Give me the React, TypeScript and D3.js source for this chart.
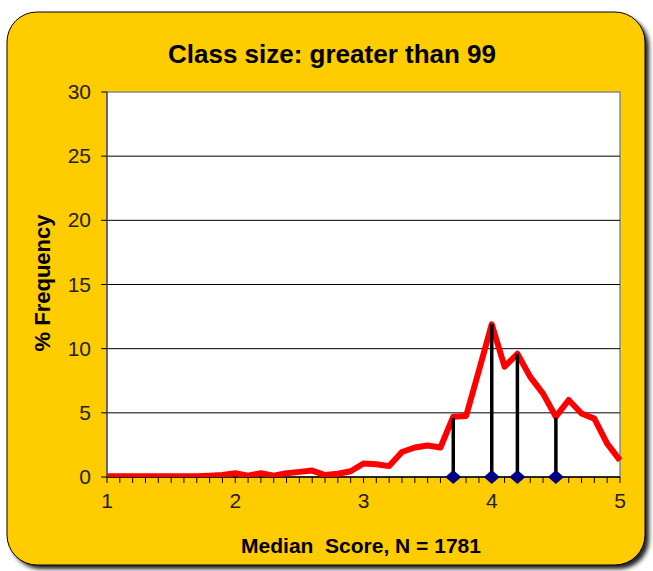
import React from 'react';
import * as d3 from 'd3';

// x categories (median score) and % frequency
const scores = [
  1.0, 1.1, 1.2, 1.3, 1.4, 1.5, 1.6, 1.7, 1.8, 1.9,
  2.0, 2.1, 2.2, 2.3, 2.4, 2.5, 2.6, 2.7, 2.8, 2.9,
  3.0, 3.1, 3.2, 3.3, 3.4, 3.5, 3.6, 3.7, 3.8, 3.9,
  4.0, 4.1, 4.2, 4.3, 4.4, 4.5, 4.6, 4.7, 4.8, 4.9, 5.0,
];
const frequency = [
  0.05, 0.05, 0.05, 0.05, 0.05, 0.05, 0.05, 0.05, 0.1, 0.15,
  0.3, 0.1, 0.3, 0.1, 0.3, 0.4, 0.5, 0.15, 0.25, 0.45,
  1.05, 1.0, 0.85, 1.95, 2.3, 2.45, 2.3, 4.7, 4.75, 8.3,
  11.9, 8.6, 9.6, 7.8, 6.5, 4.7, 6.0, 4.95, 4.55, 2.6, 1.3,
];
// reference markers (black stems + diamonds)
const markerScores = [3.7, 4.0, 4.2, 4.5];
const markerHeights = [4.6, 11.9, 9.6, 4.6];

const yTicks = [0, 5, 10, 15, 20, 25, 30];
const xTicks = [1, 2, 3, 4, 5];

const width = 653, height = 571;
const plot = { left: 107, right: 620, top: 92, bottom: 477 };
const font = 'Liberation Sans, Arial, sans-serif';

const Txt = ({ x, y, size, bold, anchor, rotate = 0, children }: any) => (
  <text
    transform={`translate(${x},${y}) rotate(${rotate})`}
    textAnchor={anchor}
    fontFamily={font}
    fontWeight={bold ? 'bold' : 'normal'}
    fontSize={size}
    fill={bold ? '#000' : '#222'}
    style={{ whiteSpace: 'pre' }}
  >
    {children}
  </text>
);

const App = () => {
  const x = d3.scaleLinear().domain([1, 5]).range([plot.left, plot.right]);
  const y = d3.scaleLinear().domain([0, 30]).range([plot.bottom, plot.top]);

  const line = d3.line<number>()
    .x((_, i) => x(scores[i]))
    .y(d => y(d));

  const minor = x.ticks(40);

  const diamond = (cx: number, cy: number) => {
    const p = d3.path();
    p.moveTo(cx, cy - 7);
    p.lineTo(cx + 8, cy);
    p.lineTo(cx, cy + 7);
    p.lineTo(cx - 8, cy);
    p.closePath();
    return p.toString();
  };

  return (
    <svg width={width} height={height} style={{ position: 'absolute', left: 0, top: 0 }}>
      <defs>
        <filter id="blur" x="-5%" y="-5%" width="110%" height="110%">
          <feGaussianBlur stdDeviation="2" />
        </filter>
        <clipPath id="plotClip">
          <rect x={plot.left} y={plot.top - 5} width={plot.right - plot.left + 5} height={plot.bottom - plot.top + 5} />
        </clipPath>
      </defs>
      <rect x={11} y={16} width={638} height={553} rx={30} fill="#222" filter="url(#blur)" />
      <rect x={7} y={12} width={638} height={553} rx={30} fill="#FFCC00" stroke="#000" strokeWidth={1} />

      <Txt x={332} y={63} size={26} bold anchor="middle">Class size: greater than 99</Txt>

      <rect x={plot.left} y={plot.top} width={plot.right - plot.left} height={plot.bottom - plot.top}
        fill="#fff" stroke="#888" strokeWidth={1.5} />

      {yTicks.filter(t => t > 0 && t < 30).map(t => (
        <line key={'g' + t} x1={plot.left} x2={plot.right} y1={y(t)} y2={y(t)} stroke="#000" strokeWidth={1} />
      ))}

      {/* y axis */}
      <line x1={plot.left} x2={plot.left} y1={plot.top} y2={plot.bottom} stroke="#555" strokeWidth={1.5} />
      {yTicks.map(t => (
        <g key={'y' + t}>
          <line x1={plot.left - 6} x2={plot.left} y1={y(t)} y2={y(t)} stroke="#000" strokeWidth={1} />
          <Txt x={91} y={y(t) + 7} size={21} anchor="end">{t}</Txt>
        </g>
      ))}

      {/* x axis */}
      <line x1={plot.left} x2={plot.right} y1={plot.bottom} y2={plot.bottom} stroke="#000" strokeWidth={1.5} />
      {minor.map((t, i) => (
        <line key={'m' + i} x1={x(t)} x2={x(t)} y1={plot.bottom} y2={plot.bottom + 6} stroke="#000" strokeWidth={1} />
      ))}
      {xTicks.map(t => (
        <Txt key={'x' + t} x={x(t)} y={508} size={21} anchor="middle">{t}</Txt>
      ))}

      <g clipPath="url(#plotClip)">
        <path d={line(frequency) ?? ''} fill="none" stroke="#FF0000" strokeWidth={6} strokeLinejoin="round" />
      </g>

      {markerScores.map((s, i) => (
        <g key={'k' + i}>
          <line x1={x(s)} x2={x(s)} y1={y(0)} y2={y(markerHeights[i])} stroke="#000" strokeWidth={3.5} />
          <path d={diamond(x(s), y(0))} fill="#000080" />
        </g>
      ))}

      <Txt x={361} y={553} size={21} bold anchor="middle">Median  Score, N = 1781</Txt>
      <Txt x={50} y={283} size={22} bold anchor="middle" rotate={-90}>% Frequency</Txt>
    </svg>
  );
};

export default App;
